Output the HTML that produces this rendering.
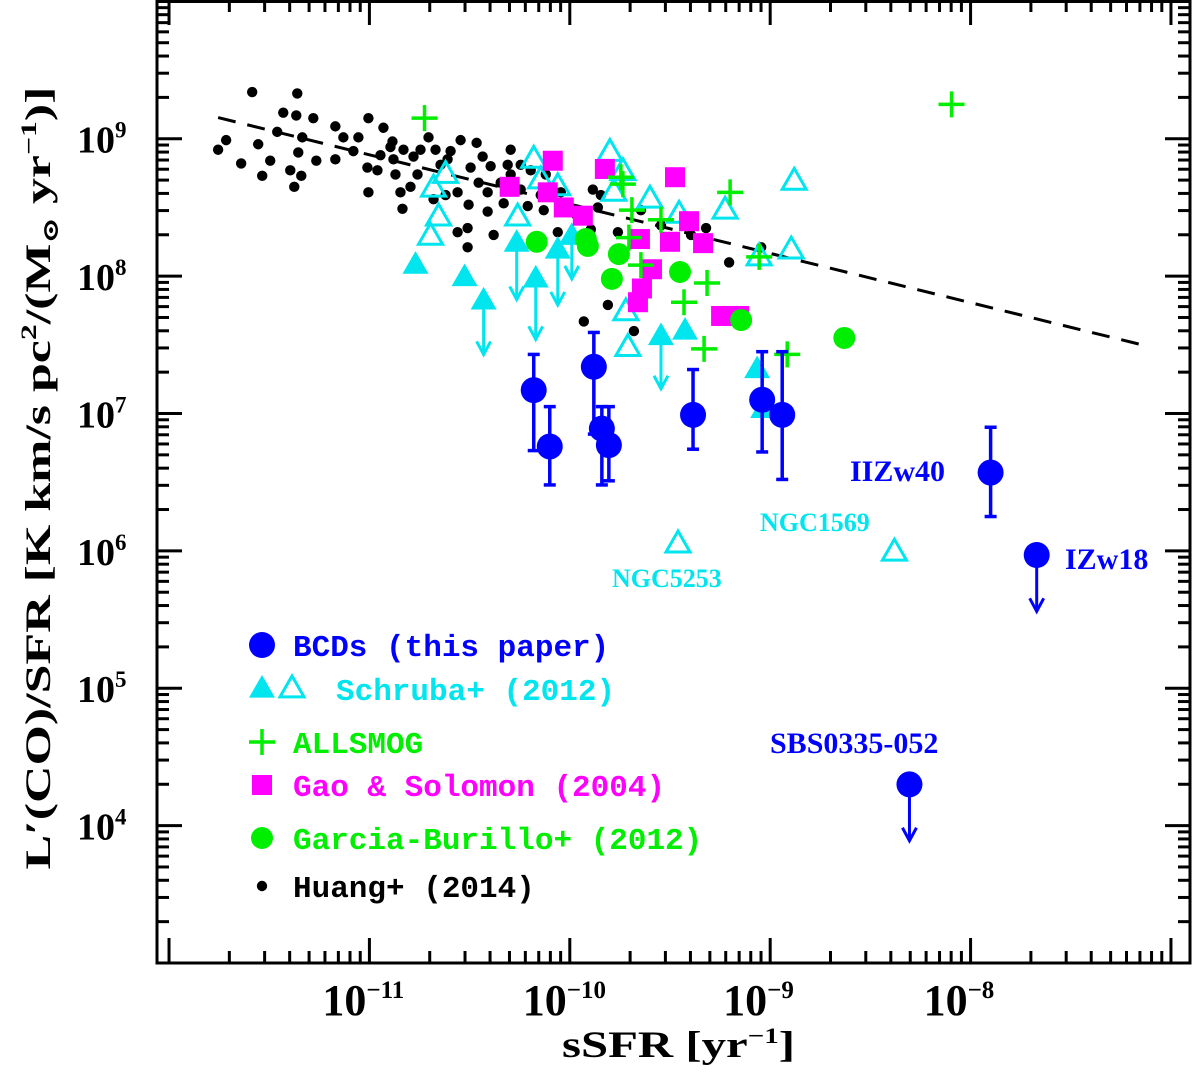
<!DOCTYPE html>
<html><head><meta charset="utf-8"><title>L'(CO)/SFR vs sSFR</title>
<style>
html,body{margin:0;padding:0;background:#fff;}
svg{display:block;}
.mono{font-family:"Liberation Mono","DejaVu Sans Mono",monospace;font-weight:bold;}
.serif{font-family:"Liberation Serif","DejaVu Serif",serif;font-weight:bold;}
</style></head>
<body>
<svg id="chart" width="1200" height="1080" viewBox="0 0 1200 1080" xmlns="http://www.w3.org/2000/svg">
<g id="axes"></g>
<g id="marks"></g>
<g id="legend"></g>
<text class="serif" x="562" y="1057" font-size="37" textLength="233" lengthAdjust="spacingAndGlyphs">sSFR [yr<tspan font-size="22" dy="-14">−1</tspan><tspan dy="14">]</tspan></text>
<text class="serif" transform="translate(50,478) rotate(-90)" font-size="36" text-anchor="middle" textLength="783" lengthAdjust="spacingAndGlyphs">L′(CO)/SFR [K km/s pc<tspan font-size="22" dy="-14">2</tspan><tspan dy="14">/(M</tspan><tspan font-size="22" dy="8">⊙</tspan><tspan dy="-8"> yr</tspan><tspan font-size="22" dy="-14">−1</tspan><tspan dy="14">)]</tspan></text>
<text class="serif" x="850" y="481" font-size="30" fill="#0000ff">IIZw40</text>
<text class="serif" x="1065" y="569" font-size="30" fill="#0000ff">IZw18</text>
<text class="serif" x="770" y="753" font-size="30" fill="#0000ff">SBS0335-052</text>
<text class="serif" x="760" y="531" font-size="26" fill="#00e5ee">NGC1569</text>
<text class="serif" x="612" y="587" font-size="26" fill="#00e5ee">NGC5253</text>
</svg>
<script>
// ---- data (log10 sSFR, log10 L'CO/SFR) ----
const xTicks = [-11, -10, -9, -8];
const yTicks = [4, 5, 6, 7, 8, 9];
const xRange = [-12.06, -6.905];
const yRange = [3.0, 10.01];

const huangX = [-11.585,-11.36,-11.43,-11.365,-11.715,-11.755,-11.64,-11.555,-11.495,-11.46,-11.335,-11.355,-11.395,-11.34,-11.375,-11.265,-11.17,-11.17,-11.13,-11.08,-11.055,-11.005,-10.93,-11.01,-10.96,-11.005,-10.885,-10.895,-10.88,-10.83,-10.78,-10.76,-10.705,-10.795,-10.845,-10.835,-10.545,-10.465,-10.595,-10.61,-10.495,-10.56,-10.435,-10.395,-10.455,-10.41,-10.505,-10.41,-10.31,-10.345,-10.33,-10.56,-10.51,-10.38,-10.51,-10.045,-9.885,-9.845,-9.76,-9.81,-9.93,-9.68,-10.06,-10.13,-10.21,-9.205,-9.86,-10.245,-10.195,-10.12,-10.295,-11.28,-11.535,-10.645,-10.745,-10.67,-10.295,-10.245,-10.145,-9.97,-9.895,-9.645,-9.545,-9.395,-9.32,-9.045,-10.68,-10.62,-10.945,-10.87];
const huangY = [9.34,9.33,9.19,9.17,8.99,8.92,8.82,8.96,8.84,9.05,9.01,8.90,8.77,8.73,8.65,8.84,9.09,8.85,9.01,8.91,9.01,9.15,9.08,8.79,8.77,8.61,8.98,8.94,8.85,8.92,8.87,8.74,9.01,8.65,8.61,8.49,8.99,8.97,8.91,8.85,8.79,8.61,8.87,8.80,8.68,8.61,8.52,8.47,8.81,8.68,8.53,8.32,8.35,8.30,8.21,8.61,8.63,8.59,8.32,7.79,7.67,7.60,8.32,8.48,8.51,8.10,8.50,8.81,8.77,8.74,8.74,9.15,8.73,8.81,8.92,8.92,8.92,8.63,8.59,8.45,8.34,8.48,8.37,8.30,8.35,8.21,8.56,8.59,8.88,8.74];

const schOpenX = [-10.18,-9.80,-9.735,-10.68,-10.62,-10.06,-10.26,-9.78,-9.60,-9.455,-10.655,-10.695,-8.88,-9.225,-8.895,-9.055,-9.72,-9.71,-9.46,-8.38,-10.145];
const schOpenY = [8.85,8.90,8.76,8.64,8.74,8.65,8.43,8.61,8.56,8.45,8.43,8.29,8.69,8.48,8.19,8.14,7.74,7.48,6.05,5.99,8.70];

const schFillX = [-10.77,-10.525,-10.43,-10.265,-10.17,-10.06,-9.99,-9.545,-9.425,-9.065,-9.035];
const schFillY = [8.08,7.99,7.82,8.24,7.98,8.19,8.29,7.56,7.60,7.32,7.03];
const schFillArrowTo = [null,null,7.43,7.83,7.54,7.79,7.98,7.18,null,null,null];

const allsmogX = [-10.725,-8.095,-9.735,-9.20,-9.69,-9.315,-9.43,-9.33,-8.915,-9.745,-9.645,-9.705,-9.055,-9.545];
const allsmogY = [9.15,9.25,8.67,8.61,8.48,7.95,7.81,7.47,7.43,8.72,8.08,8.28,8.14,8.41];

const gaoX = [-10.085,-9.825,-9.475,-10.30,-10.11,-10.03,-9.935,-9.405,-9.65,-9.50,-9.335,-9.59,-9.64,-9.66,-9.245,-9.155];
const gaoY = [8.84,8.78,8.72,8.65,8.61,8.50,8.44,8.40,8.27,8.25,8.24,8.05,7.91,7.81,7.71,7.71];

const garciaX = [-10.165,-9.91,-9.755,-9.79,-9.45,-9.145,-8.63,-9.92];
const garciaY = [8.25,8.22,8.16,7.98,8.03,7.68,7.55,8.27];

const bcdX = [-10.18,-10.10,-9.88,-9.84,-9.805,-9.385,-9.04,-8.94,-7.90,-7.67,-8.305];
const bcdY = [7.17,6.76,7.34,6.89,6.77,6.99,7.10,6.99,6.57,5.97,4.30];
const bcdErrHi = [7.43,7.05,7.59,7.05,7.05,7.32,7.45,7.45,6.90,null,null];
const bcdErrLo = [6.73,6.48,6.85,6.48,6.51,6.74,6.72,6.52,6.25,null,null];
const bcdLimitTo = [null,null,null,null,null,null,null,null,null,5.56,3.89];

const fitX = [-11.755, -7.145];
const fitY = [9.154, 7.50];

// ---- scales ----
const PL = 157, PR = 1190, PT = 0, PB = 963;
function X(v){ return PL + (v - xRange[0]) / (xRange[1]-xRange[0]) * (PR-PL); }
function Y(v){ return PB - (v - yRange[0]) / (yRange[1]-yRange[0]) * (PB-PT); }

const NS = 'http://www.w3.org/2000/svg';
function mk(tag, parent, attrs){ const e = document.createElementNS(NS, tag); for (const k in attrs) e.setAttribute(k, attrs[k]); parent.appendChild(e); return e; }

const axes = document.getElementById('axes');
const marks = document.getElementById('marks');
const legend = document.getElementById('legend');

const frame = mk('rect', axes, {x:PL, y:PT+1.5, width:PR-PL, height:PB-PT-1.5, fill:'none', stroke:'#000', 'stroke-width':3});



for (let d = -12; d <= -7; d++) {
  for (let m = 1; m <= 9; m++) {
    const v = d + Math.log10(m);
    if (v < xRange[0] || v > xRange[1]) continue;
    const px = X(v), len = (m === 1) ? 25 : 12;
    const t1 = mk('line', axes, {x1:px, x2:px, y1:PB, y2:PB-len, stroke:'#000', 'stroke-width':3});
    
    
    const t2 = mk('line', axes, {x1:px, x2:px, y1:PT, y2:PT+len, stroke:'#000', 'stroke-width':3});
    
    
  }
}
xTicks.forEach(v => {
  const t = mk('text', axes, {x:X(v)-47, y:1015, 'font-size':44, class:'serif'});
  
  
  t.innerHTML = '10<tspan font-size="25" dy="-17">−' + (-v) + '</tspan>';
});
for (let d = 3; d <= 10; d++) {
  for (let m = 1; m <= 9; m++) {
    const v = d + Math.log10(m);
    if (v < yRange[0] || v > yRange[1]) continue;
    const py = Y(v), len = (m === 1) ? 25 : 12;
    const t1 = mk('line', axes, {x1:PL, x2:PL+len, y1:py, y2:py, stroke:'#000', 'stroke-width':3});
    
    
    const t2 = mk('line', axes, {x1:PR, x2:PR-len, y1:py, y2:py, stroke:'#000', 'stroke-width':3});
    
    
  }
}
yTicks.forEach(v => {
  const t = mk('text', axes, {x:77, y:Y(v)+14, 'font-size':38, class:'serif'});
  
  
  t.innerHTML = '10<tspan font-size="23" dy="-15">' + v + '</tspan>';
});

function triPts(cx, cy, s){ const h = s*0.87; return `${cx},${cy-h*0.62} ${cx-s/2},${cy+h*0.38} ${cx+s/2},${cy+h*0.38}`; }
function arrowDown(g, cx, y1, y2, col){
  mk('line', g, {x1:cx, x2:cx, y1:y1, y2:y2-2, stroke:col, 'stroke-width':3});
  mk('polyline', g, {points:`${cx-7},${y2-13} ${cx},${y2} ${cx+7},${y2-13}`, fill:'none', stroke:col, 'stroke-width':3});
}

const fit = mk('line', marks, {x1:X(fitX[0]), y1:Y(fitY[0]), x2:X(fitX[1]), y2:Y(fitY[1]), stroke:'#000', 'stroke-width':3, 'stroke-dasharray':'18,12'});



huangX.forEach((v,i) => {
  const c = mk('circle', marks, {cx:X(v), cy:Y(huangY[i]), r:5.2, fill:'#000'});
  
  
});
schOpenX.forEach((v,i) => {
  const p = mk('polygon', marks, {points:triPts(X(v), Y(schOpenY[i]), 24), fill:'none', stroke:'#00e5ee', 'stroke-width':3});
  
  
});
schFillX.forEach((v,i) => {
  const g = mk('g', marks, {});
  
  
  const cx = X(v), cy = Y(schFillY[i]);
  if (schFillArrowTo[i] !== null) arrowDown(g, cx, cy, Y(schFillArrowTo[i]), '#00e5ee');
  mk('polygon', g, {points:triPts(cx, cy, 26), fill:'#00e5ee'});
});
gaoX.forEach((v,i) => {
  const r = mk('rect', marks, {x:X(v)-10, y:Y(gaoY[i])-10, width:20, height:20, fill:'#ff00ff'});
  
  
});
garciaX.forEach((v,i) => {
  const c = mk('circle', marks, {cx:X(v), cy:Y(garciaY[i]), r:11, fill:'#00ee00'});
  
  
});
allsmogX.forEach((v,i) => {
  const cx = X(v), cy = Y(allsmogY[i]);
  const p = mk('path', marks, {d:`M${cx-13},${cy}H${cx+13}M${cx},${cy-13}V${cy+13}`, stroke:'#00ee00', 'stroke-width':3.5, fill:'none'});
  
  
});
bcdX.forEach((v,i) => {
  const g = mk('g', marks, {});
  
  
  const cx = X(v), cy = Y(bcdY[i]);
  if (bcdErrHi[i] !== null) {
    const yh = Y(bcdErrHi[i]), yl = Y(bcdErrLo[i]);
    mk('line', g, {x1:cx, x2:cx, y1:yh, y2:yl, stroke:'#0000ff', 'stroke-width':3.5});
    mk('line', g, {x1:cx-6, x2:cx+6, y1:yh, y2:yh, stroke:'#0000ff', 'stroke-width':3.5});
    mk('line', g, {x1:cx-6, x2:cx+6, y1:yl, y2:yl, stroke:'#0000ff', 'stroke-width':3.5});
  }
  if (bcdLimitTo[i] !== null) arrowDown(g, cx, cy, Y(bcdLimitTo[i]), '#0000ff');
  mk('circle', g, {cx:cx, cy:cy, r:13, fill:'#0000ff'});
});

const legRows = [
  {y:645, text:'BCDs (this paper)', col:'#0000ff', name:'legend-bcds'},
  {y:689, text:'Schruba+ (2012)', col:'#00e5ee', name:'legend-schruba'},
  {y:742, text:'ALLSMOG', col:'#00ee00', name:'legend-allsmog'},
  {y:785, text:'Gao & Solomon (2004)', col:'#ff00ff', name:'legend-gao'},
  {y:838, text:'Garcia-Burillo+ (2012)', col:'#00ee00', name:'legend-garcia'},
  {y:886, text:'Huang+ (2014)', col:'#000000', name:'legend-huang'}
];
legRows.forEach((r,i) => {
  const g = mk('g', legend, {});
  
  
  const mx = 262, my = r.y;
  if (i === 0) mk('circle', g, {cx:mx, cy:my, r:13, fill:r.col});
  if (i === 1) { mk('polygon', g, {points:triPts(mx, my, 26), fill:r.col}); mk('polygon', g, {points:triPts(mx+30, my, 24), fill:'none', stroke:r.col, 'stroke-width':3}); }
  if (i === 2) mk('path', g, {d:`M${mx-13},${my}H${mx+13}M${mx},${my-13}V${my+13}`, stroke:r.col, 'stroke-width':3.5});
  if (i === 3) mk('rect', g, {x:mx-10, y:my-10, width:20, height:20, fill:r.col});
  if (i === 4) mk('circle', g, {cx:mx, cy:my, r:11, fill:r.col});
  if (i === 5) mk('circle', g, {cx:mx, cy:my, r:5.2, fill:r.col});
  const tx = (i === 1) ? 336 : 293;
  const t = mk('text', g, {x:tx, y:my+11, 'font-size':31, fill:r.col, class:'mono'});
  t.textContent = r.text;
});
</script>
</body></html>
